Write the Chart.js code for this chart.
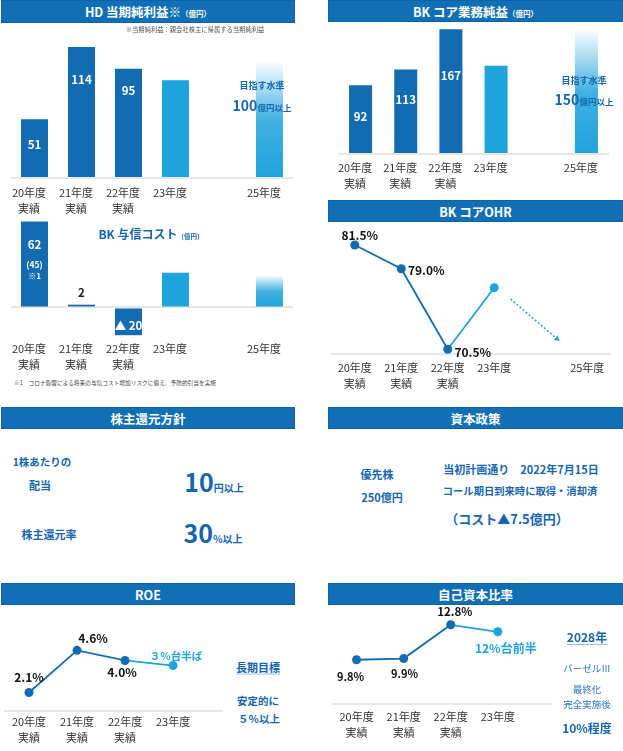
<!DOCTYPE html>
<html lang="ja">
<head>
<meta charset="utf-8">
<script src="https://cdn.jsdelivr.net/npm/chart.js@4.4.0/dist/chart.umd.min.js"></script>
<style>
  html, body { margin: 0; padding: 0; background: #fff; }
  body { width: 623px; height: 751px; position: relative; overflow: hidden;
         font-family: "Noto Sans CJK JP", "Noto Sans", sans-serif; }
  canvas { position: absolute; }
  .hdr { position: absolute; height: 22px; line-height: 21px; background: #1170b5;
         border: 1px solid #0d62a8; box-sizing: border-box; color: #fff; font-weight: bold;
         font-size: 12.5px; text-align: center; white-space: nowrap; z-index: 2; }
  .hdr small { font-size: 7.5px; }
  .t { position: absolute; white-space: nowrap; color: #1565b0; font-weight: bold; line-height: 1;
       transform: translate(-50%, -50%); z-index: 2; }
  .u { text-decoration: underline; text-decoration-color: #9dbfe3; text-underline-offset: 2px; }
  .n { font-weight: normal; color: #2c78c0; font-size: 9.5px; }
</style>
</head>
<body>

<canvas id="hd" width="300" height="194" style="left:0;top:24px"></canvas>
<canvas id="core" width="296" height="175" style="left:327px;top:23px"></canvas>
<canvas id="credit" width="300" height="158" style="left:0;top:218px"></canvas>
<canvas id="ohr" width="296" height="172" style="left:327px;top:223px"></canvas>
<canvas id="roe" width="230" height="142" style="left:0;top:606px"></canvas>
<canvas id="cap" width="240" height="145" style="left:327px;top:600px"></canvas>

<!-- 見出し -->
<div class="hdr" style="left:1px;top:0;width:294px;height:23px;line-height:22px">HD 当期純利益※<small>（億円）</small></div>
<div class="hdr" style="left:328px;top:0;width:295px">BK コア業務純益<small>（億円）</small></div>
<div class="hdr" style="left:328px;top:200px;width:295px">BK コアOHR</div>
<div class="hdr" style="left:1px;top:407px;width:294px">株主還元方針</div>
<div class="hdr" style="left:328px;top:407px;width:295px">資本政策</div>
<div class="hdr" style="left:1px;top:583px;width:294px">ROE</div>
<div class="hdr" style="left:328px;top:583px;width:295px">自己資本比率</div>

<!-- 注記・目標 -->
<div class="t" style="left:195px;top:30px;font-size:6.3px;color:#555;font-weight:normal">※当期純利益：親会社株主に帰属する当期純利益</div>
<div class="t" style="left:262px;top:85px;font-size:9px">目指す水準</div>
<div class="t" style="left:262px;top:104px"><span style="font-size:14px">100</span><span style="font-size:8.5px">億円以上</span></div>
<div class="t" style="left:584px;top:80px;font-size:9px">目指す水準</div>
<div class="t" style="left:584px;top:98px"><span style="font-size:14px">150</span><span style="font-size:8.5px">億円以上</span></div>

<div class="t" style="left:151px;top:232px"><span style="font-size:12px">BK 与信コスト</span><span style="font-size:6.5px">（億円）</span></div>
<div class="t" style="left:115px;top:383px;font-size:5.7px;color:#444;font-weight:normal">※1　コロナ影響による将来の与信コスト増加リスクに備え、予防的引当を実施</div>

<!-- 株主還元方針 -->
<div class="t" style="left:42px;top:462px;font-size:10.5px">1株あたりの</div>
<div class="t" style="left:40px;top:485px;font-size:11px">配当</div>
<div class="t" style="left:49px;top:534px;font-size:11px">株主還元率</div>
<div class="t" style="left:214px;top:481px"><span style="font-size:25px">10</span><span style="font-size:10px">円以上</span></div>
<div class="t" style="left:213px;top:532px"><span style="font-size:25px">30</span><span style="font-size:10px">%以上</span></div>

<!-- 資本政策 -->
<div class="t" style="left:377px;top:474px;font-size:11px">優先株</div>
<div class="t" style="left:382px;top:497px;font-size:11px">250億円</div>
<div class="t" style="left:521px;top:469px;font-size:11px">当初計画通り　2022年7月15日</div>
<div class="t" style="left:520px;top:491px;font-size:10.3px">コール期日到来時に取得・消却済</div>
<div class="t" style="left:507px;top:518px;font-size:13px">（コスト▲7.5億円）</div>

<!-- ROE 長期目標 -->
<div class="t u" style="left:258px;top:667px;font-size:11px">長期目標</div>
<div class="t" style="left:258px;top:701px;font-size:10.5px">安定的に</div>
<div class="t" style="left:259px;top:719px;font-size:10.5px">５％以上</div>

<!-- 自己資本比率 目標 -->
<div class="t u" style="left:587px;top:637px;font-size:12px">2028年</div>
<div class="t n" style="left:587px;top:669px">バーゼルⅢ</div>
<div class="t n" style="left:587px;top:690px">最終化</div>
<div class="t n" style="left:587px;top:705px">完全実施後</div>
<div class="t" style="left:587px;top:728px;font-size:12px">10%程度</div>

<script>
// ---- データ ----
var yearCats = [['20年度', '実績'], ['21年度', '実績'], ['22年度', '実績'], '23年度', '', '25年度'];
var shortCats = [['20年度', '実績'], ['21年度', '実績'], ['22年度', '実績'], '23年度'];

var hdValues = [51, 114, 95, 85, null, 100];        // HD 当期純利益（億円）
var coreValues = [92, 113, 167, 118, null, 165];    // BK コア業務純益（億円）
var creditValues = [62, 2, -20, 25, null, 23];      // BK 与信コスト（億円）
var creditNotes = ['(45)', '※1'];
var ohrValues = [81.5, 79.0, 70.5, 77.0];           // BK コアOHR（%）
var ohrTrendX = [3.35, 4.35];
var ohrTrendY = [75.8, 71.6];
var roeValues = [2.1, 4.6, 4.0, 3.7];               // ROE（%）
var roeOutlook = '３％台半ば';
var capValues = [9.8, 9.9, 12.8, 12.2];             // 自己資本比率（%）
var capOutlook = '12%台前半';

// ---- 共通 ----
var FONT = '"Noto Sans CJK JP", "Noto Sans", sans-serif';
var DARK = '#136cb2';
var LIGHT = '#1fa3dc';
Chart.defaults.font.family = FONT;

function barColor(ctx) {
    var i = ctx.dataIndex;
    if (i < 3) return DARK;
    if (i === 3 || ctx.raw == null) return LIGHT;
    var y = ctx.chart.scales.y;
    if (!y) return LIGHT;
    var top = y.getPixelForValue(ctx.raw);
    var base = y.getPixelForValue(0);
    var g = ctx.chart.ctx.createLinearGradient(0, top, 0, base);
    g.addColorStop(0, 'rgba(31,163,220,0.03)');
    g.addColorStop(0.5, 'rgba(31,163,220,0.85)');
    g.addColorStop(1, LIGHT);
    return g;
}

// 棒・点の上に文字を置く
var markText = {
    id: 'markText',
    afterDatasetsDraw: function (chart, args, opts) {
        var c = chart.ctx;
        var meta = chart.getDatasetMeta(0);
        c.save();
        c.textAlign = 'center';
        c.textBaseline = 'middle';
        (opts.items || []).forEach(function (it) {
            var el = meta.data[it.i];
            if (!el) return;
            c.font = 'bold ' + (it.size || 11.5) + 'px ' + FONT;
            c.fillStyle = it.color || '#fff';
            c.fillText(it.text, el.x + (it.dx || 0), el.y + (it.dy || 0));
        });
        c.restore();
    }
};

function barChart(id, values, o) {
    return new Chart(document.getElementById(id), {
        type: 'bar',
        data: {
            labels: yearCats,
            datasets: [{ data: values, backgroundColor: barColor, barPercentage: o.bar, categoryPercentage: 1 }]
        },
        options: {
            responsive: false,
            animation: false,
            layout: { padding: o.pad },
            plugins: { legend: { display: false }, tooltip: { enabled: false }, markText: { items: o.items } },
            scales: {
                x: {
                    grid: { display: false, drawTicks: false },
                    border: { display: false },
                    ticks: { padding: o.tickPad, labelOffset: -5.5, color: '#333', maxRotation: 0, autoSkip: false,
                             font: { size: 11, lineHeight: 1.45 } },
                    afterFit: function (s) { s.height = o.axisH; }
                },
                y: {
                    min: o.min, max: o.max,
                    ticks: { display: false },
                    border: { display: false },
                    grid: { drawTicks: false, color: '#e6e6e6', lineWidth: 2 },
                    afterBuildTicks: function (s) { s.ticks = [{ value: 0 }]; },
                    afterFit: function (s) { s.width = 0; }
                }
            }
        },
        plugins: [markText]
    });
}

function lineChart(id, cats, values, o) {
    var datasets = [{
        data: values.map(function (v, i) { return { x: i, y: v }; }),
        borderColor: DARK,
        borderWidth: 1.8,
        segment: { borderColor: function (s) { return s.p1DataIndex > 2 ? LIGHT : DARK; } },
        pointRadius: 4.5,
        pointBorderWidth: 0,
        pointBackgroundColor: values.map(function (v, i) { return i > 2 ? LIGHT : DARK; }),
        clip: false
    }];
    if (o.extra) datasets.push(o.extra);
    return new Chart(document.getElementById(id), {
        type: 'line',
        data: { datasets: datasets },
        options: {
            responsive: false,
            animation: false,
            layout: { padding: o.pad },
            plugins: { legend: { display: false }, tooltip: { enabled: false }, markText: { items: o.items } },
            scales: {
                x: {
                    type: 'linear', min: o.xmin, max: o.xmax,
                    grid: { display: false, drawTicks: false },
                    border: { color: '#e8e8e8', width: 2 },
                    afterBuildTicks: function (s) { s.ticks = cats.map(function (c, i) { return { value: i }; }); },
                    ticks: { callback: function (v) { return cats[v]; }, padding: o.tickPad, color: '#333',
                             maxRotation: 0, autoSkip: false, font: { size: 11, lineHeight: 1.45 } },
                    afterFit: function (s) { s.height = o.axisH; }
                },
                y: { display: false, min: o.min, max: o.max }
            }
        },
        plugins: [markText]
    });
}

function pct(v) { return v.toFixed(1) + '%'; }

// ---- HD 当期純利益 ----
barChart('hd', hdValues, {
    bar: 0.575, pad: { left: 11, right: 7, top: 16, bottom: 0 }, axisH: 40, tickPad: 7, min: 0, max: 120,
    items: [
        { i: 0, text: String(hdValues[0]), dy: 25 },
        { i: 1, text: String(hdValues[1]), dy: 33 },
        { i: 2, text: String(hdValues[2]), dy: 22 }
    ]
});

// ---- BK コア業務純益 ----
barChart('core', coreValues, {
    bar: 0.51, pad: { left: 11, right: 14, top: 4, bottom: 0 }, axisH: 44, tickPad: 6, min: 0, max: 170,
    items: [
        { i: 0, text: String(coreValues[0]), dy: 31 },
        { i: 1, text: String(coreValues[1]), dy: 30 },
        { i: 2, text: String(coreValues[2]), dy: 46 }
    ]
});

// ---- BK 与信コスト ----
barChart('credit', creditValues, {
    bar: 0.575, pad: { left: 11, right: 7, top: 2, bottom: 0 }, axisH: 38, tickPad: 3, min: -22, max: 63,
    items: [
        { i: 0, text: String(creditValues[0]), dy: 23 },
        { i: 0, text: creditNotes[0], dy: 43, size: 8.5 },
        { i: 0, text: creditNotes[1], dy: 55, size: 8 },
        { i: 1, text: String(creditValues[1]), dy: -12, color: '#222' },
        { i: 2, text: '▲ ' + Math.abs(creditValues[2]), dy: -10 }
    ]
});

// ---- BK コアOHR ----
lineChart('ohr', yearCats, ohrValues, {
    pad: { left: 1.5, right: 12.5, top: 5, bottom: 0 }, axisH: 41, tickPad: 6,
    xmin: -0.5, xmax: 5.5, min: 70, max: 83.3,
    extra: {
        data: ohrTrendX.map(function (x, i) { return { x: x, y: ohrTrendY[i] }; }),
        borderColor: LIGHT,
        borderWidth: 1.5,
        borderDash: [2, 2],
        pointRadius: [0, 3.5],
        pointStyle: 'triangle',
        pointRotation: [0, 130],
        pointBorderWidth: 0,
        pointBackgroundColor: LIGHT,
        clip: false
    },
    items: [
        { i: 0, text: pct(ohrValues[0]), dx: 5, dy: -10, color: '#111', size: 12 },
        { i: 1, text: pct(ohrValues[1]), dx: 25, dy: 2, color: '#111', size: 12 },
        { i: 2, text: pct(ohrValues[2]), dx: 25, dy: 3, color: '#111', size: 12 }
    ]
});

// ---- ROE ----
lineChart('roe', shortCats, roeValues, {
    pad: { left: 5, right: 8, top: 9, bottom: 0 }, axisH: 37, tickPad: 3,
    xmin: -0.5, xmax: 4.02, min: 1.0, max: 6.7,
    items: [
        { i: 0, text: pct(roeValues[0]), dx: 0, dy: -15, color: '#111', size: 12 },
        { i: 1, text: pct(roeValues[1]), dx: 16, dy: -12, color: '#111', size: 12 },
        { i: 2, text: pct(roeValues[2]), dx: -3, dy: 12, color: '#111', size: 12 },
        { i: 3, text: roeOutlook, dx: 3, dy: -10, color: LIGHT, size: 10.5 }
    ]
});

// ---- 自己資本比率 ----
lineChart('cap', shortCats, capValues, {
    pad: { left: 6, right: 16, top: 5, bottom: 0 }, axisH: 41, tickPad: 5,
    xmin: -0.5, xmax: 4.13, min: 6, max: 14.5,
    items: [
        { i: 0, text: pct(capValues[0]), dx: -6, dy: 17, color: '#111', size: 11 },
        { i: 1, text: pct(capValues[1]), dx: 1, dy: 15, color: '#111', size: 11 },
        { i: 2, text: pct(capValues[2]), dx: 4, dy: -13, color: '#111', size: 11.5 },
        { i: 3, text: capOutlook, dx: 8, dy: 17, color: LIGHT, size: 12 }
    ]
});
</script>
</body>
</html>
